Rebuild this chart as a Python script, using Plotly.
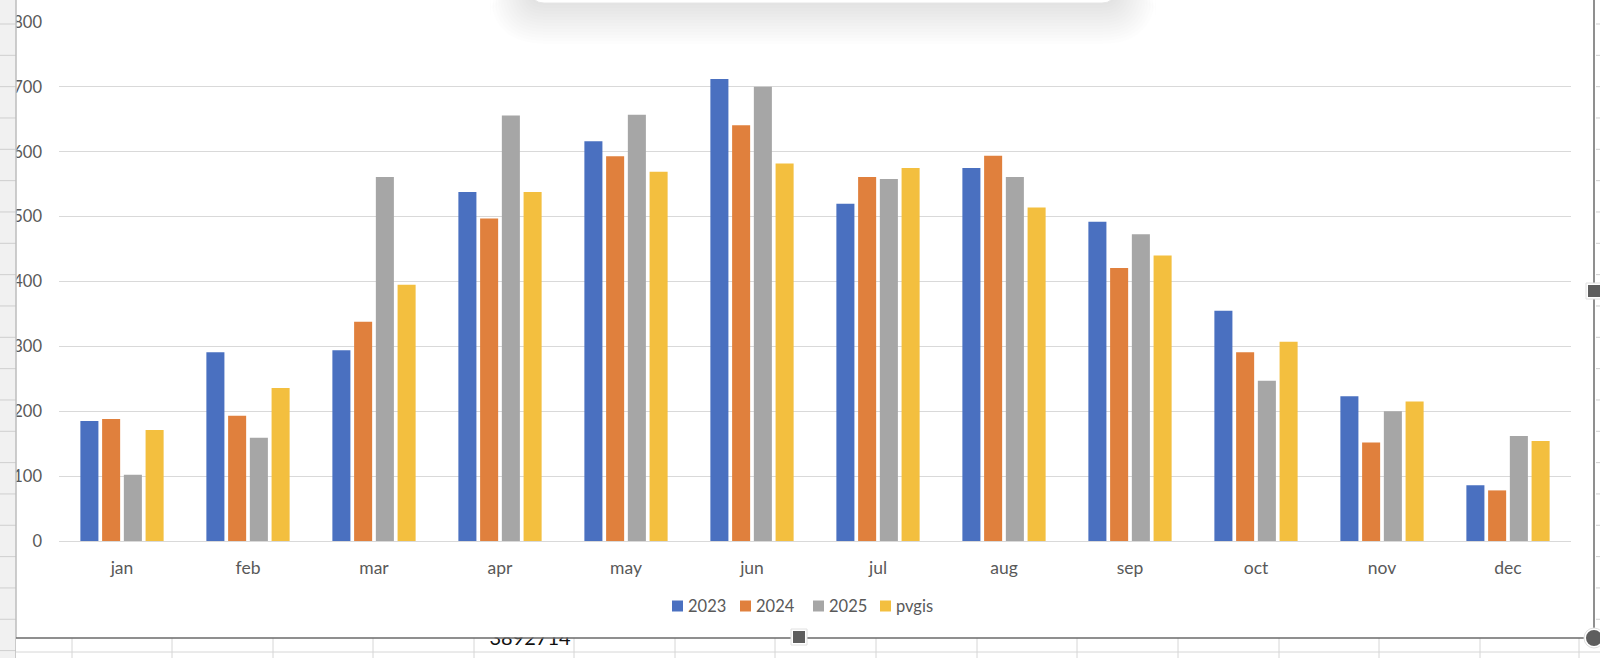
import plotly.graph_objects as go

# ---------------- data ----------------
months = ["jan", "feb", "mar", "apr", "may", "jun", "jul", "aug", "sep", "oct", "nov", "dec"]
y2023 = [185, 291, 294, 538, 616, 712, 520, 575, 492, 355, 223, 86]
y2024 = [188, 193, 338, 497, 593, 641, 561, 594, 421, 291, 152, 78]
y2025 = [102, 159, 561, 656, 657, 700, 558, 561, 473, 247, 200, 162]
pvgis = [171, 236, 395, 538, 569, 582, 575, 514, 440, 307, 215, 154]
series_names = ["2023", "2024", "2025", "pvgis"]
series_values = [y2023, y2024, y2025, pvgis]
colors = ["#4A70C0", "#E0803D", "#A6A6A6", "#F3BF3F"]
y_ticks = [0, 100, 200, 300, 400, 500, 600, 700, 800]
cell_text = "3892714"

# ---------------- geometry (pixels) ----------------
W, H = 1600, 658
ML, MR, MT, MB = 59, 29, 22, 117
PW = W - ML - MR
PH = H - MT - MB


def px(x):
    return (x - ML) / PW


def py(y):
    return (H - MB - y) / PH


def rrect(x0, y0, x1, y1, r):
    # rounded rectangle path in paper coords from pixel box
    pts = [
        f"M{px(x0 + r)},{py(y0)}",
        f"L{px(x1 - r)},{py(y0)}",
        f"Q{px(x1)},{py(y0)} {px(x1)},{py(y0 + r)}",
        f"L{px(x1)},{py(y1 - r)}",
        f"Q{px(x1)},{py(y1)} {px(x1 - r)},{py(y1)}",
        f"L{px(x0 + r)},{py(y1)}",
        f"Q{px(x0)},{py(y1)} {px(x0)},{py(y1 - r)}",
        f"L{px(x0)},{py(y0 + r)}",
        f"Q{px(x0)},{py(y0)} {px(x0 + r)},{py(y0)}",
        "Z",
    ]
    return " ".join(pts)


FONT = "Lato, 'Open Sans', sans-serif"
GRAY_TXT = "#595959"

fig = go.Figure()
for name, vals, col in zip(series_names, series_values, colors):
    fig.add_trace(go.Bar(x=months, y=vals, name=name, marker=dict(color=col, line=dict(width=0)),
                         showlegend=False))

shapes = []
annotations = []

# --- top popup shadow and box ---
for i in range(14):
    e = 3 * (i + 1)
    shapes.append(dict(type="path", xref="paper", yref="paper", layer="above",
                       path=rrect(532 - e, -30, 1114 + e, 2 + e, 12 + e),
                       fillcolor="rgba(0,0,0,0.006)", line=dict(width=0)))
shapes.append(dict(type="path", xref="paper", yref="paper", layer="above",
                   path=rrect(532, -30, 1114, 3, 12),
                   fillcolor="white", line=dict(color="#E6E6E6", width=1)))

# --- left spreadsheet column ---
shapes.append(dict(type="rect", xref="paper", yref="paper", layer="above",
                   x0=px(0), x1=px(16), y0=py(0), y1=py(H),
                   fillcolor="#F1F1F1", line=dict(width=0)))
r = 24.0
while r < H:
    shapes.append(dict(type="line", xref="paper", yref="paper", layer="above",
                       x0=px(0), x1=px(16), y0=py(r), y1=py(r),
                       line=dict(color="#CFCFCF", width=1)))
    if r < 636:
        shapes.append(dict(type="line", xref="paper", yref="paper", layer="above",
                           x0=px(1596), x1=px(1600), y0=py(r), y1=py(r),
                           line=dict(color="#CFCFCF", width=1)))
    r += 31.33
shapes.append(dict(type="line", xref="paper", yref="paper", layer="above",
                   x0=px(16), x1=px(16), y0=py(0), y1=py(H),
                   line=dict(color="#BDBDBD", width=1.5)))

# --- cells below chart ---
shapes.append(dict(type="rect", xref="paper", yref="paper", layer="above",
                   x0=px(16), x1=px(W), y0=py(638), y1=py(H),
                   fillcolor="white", line=dict(width=0)))
shapes.append(dict(type="line", xref="paper", yref="paper", layer="above",
                   x0=px(16), x1=px(W), y0=py(652), y1=py(652),
                   line=dict(color="#D6D6D6", width=1)))
for cx in [72, 172, 273, 373, 474, 574, 675, 775, 876, 977, 1077, 1178, 1279, 1379, 1480, 1579]:
    shapes.append(dict(type="line", xref="paper", yref="paper", layer="above",
                       x0=px(cx), x1=px(cx), y0=py(638), y1=py(H),
                       line=dict(color="#D6D6D6", width=1)))
# cell text partly hidden behind the chart
shapes.append(dict(type="rect", xref="paper", yref="paper", layer="above",
                   x0=px(480), x1=px(580), y0=py(652), y1=py(622),
                   fillcolor="rgba(0,0,0,0)", line=dict(width=0),
                   label=dict(text=cell_text, font=dict(family=FONT, size=20, color="#111111"),
                              textposition="middle center")))
shapes.append(dict(type="rect", xref="paper", yref="paper", layer="above",
                   x0=px(470), x1=px(590), y0=py(637.5), y1=py(600),
                   fillcolor="white", line=dict(width=0)))

# --- chart frame ---
shapes.append(dict(type="line", xref="paper", yref="paper", layer="above",
                   x0=px(16), x1=px(1594), y0=py(638), y1=py(638),
                   line=dict(color="#6A6A6A", width=1.5)))
shapes.append(dict(type="line", xref="paper", yref="paper", layer="above",
                   x0=px(1594), x1=px(1594), y0=py(0), y1=py(638),
                   line=dict(color="#6A6A6A", width=1.5)))

# --- handles ---
for (hx, hy) in [(1594, 291), (799, 637)]:
    shapes.append(dict(type="rect", xref="paper", yref="paper", layer="above",
                       x0=px(hx - 8), x1=px(hx + 8), y0=py(hy + 8), y1=py(hy - 8),
                       fillcolor="white", line=dict(color="#E0E0E0", width=1)))
    shapes.append(dict(type="rect", xref="paper", yref="paper", layer="above",
                       x0=px(hx - 6), x1=px(hx + 6), y0=py(hy + 6), y1=py(hy - 6),
                       fillcolor="#5E5E5E", line=dict(width=0)))
shapes.append(dict(type="circle", xref="paper", yref="paper", layer="above",
                   x0=px(1594 - 10), x1=px(1594 + 10), y0=py(638 + 10), y1=py(638 - 10),
                   fillcolor="white", line=dict(color="#E0E0E0", width=1)))
shapes.append(dict(type="circle", xref="paper", yref="paper", layer="above",
                   x0=px(1594 - 8), x1=px(1594 + 8), y0=py(638 + 8), y1=py(638 - 8),
                   fillcolor="#5E5E5E", line=dict(width=0)))

# --- legend (manual, Excel style) ---
leg_sq_x = [672, 740, 813, 880]
for name, col, lx in zip(series_names, colors, leg_sq_x):
    shapes.append(dict(type="rect", xref="paper", yref="paper", layer="above",
                       x0=px(lx), x1=px(lx + 11), y0=py(611.5), y1=py(600.5),
                       fillcolor=col, line=dict(width=0)))
    annotations.append(dict(xref="paper", yref="paper", x=px(lx + 14), y=py(606),
                            xanchor="left", yanchor="middle", showarrow=False,
                            text=name, font=dict(family=FONT, size=16.5, color=GRAY_TXT)))

fig.update_layout(
    width=W, height=H,
    margin=dict(l=ML, r=MR, t=MT, b=MB, pad=0),
    paper_bgcolor="white", plot_bgcolor="white",
    barmode="group", bargap=0.31, bargroupgap=0.17,
    font=dict(family=FONT, size=16, color=GRAY_TXT),
    shapes=shapes, annotations=annotations,
    showlegend=False,
)
fig.update_xaxes(showgrid=False, showline=False, ticks="", zeroline=False,
                 tickfont=dict(family=FONT, size=17.5, color=GRAY_TXT),
                 ticklabelstandoff=14, fixedrange=True)
fig.update_yaxes(range=[0, 800], tickvals=y_ticks, showgrid=True, gridcolor="#D9D9D9",
                 gridwidth=1, zeroline=True, zerolinecolor="#D9D9D9", zerolinewidth=1,
                 showline=False, ticks="",
                 tickfont=dict(family=FONT, size=16.5, color=GRAY_TXT),
                 ticklabelstandoff=16, fixedrange=True)

fig.write_html("out.html", config={"displayModeBar": False},
               post_script="document.body.style.margin='0';document.body.style.overflow='hidden';")
